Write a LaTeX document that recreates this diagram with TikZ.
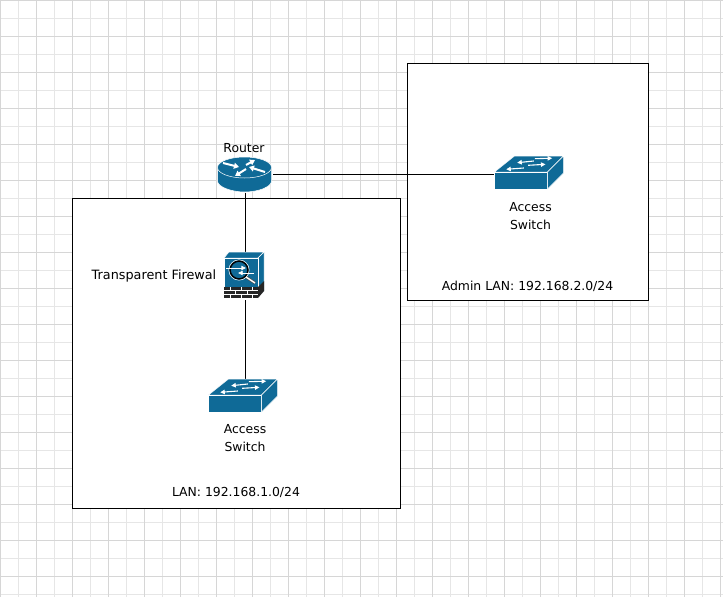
\documentclass[tikz,border=0pt]{standalone}
\usepackage{fontspec}
\setmainfont{DejaVu Sans}
\usetikzlibrary{arrows.meta}
\definecolor{ciscoblue}{HTML}{0F6A97}
\definecolor{gridminor}{HTML}{E6E6E6}
\definecolor{gridmajor}{HTML}{D6D6D6}
\tikzset{
  zonebox/.style={draw=black,fill=white,line width=0.9pt},
  label/.style={font=\fontsize{12.4}{18}\selectfont,text=black,inner sep=0pt,align=center},
  link/.style={draw=black,line width=0.9pt},
  face/.style={fill=ciscoblue,draw=white,line width=0.5pt,line join=round},
  wa/.style={draw=white,line width=1.1pt,-{Triangle[width=4.4pt,length=4.6pt]}},
  ra/.style={draw=white,line width=2pt,-{Triangle[width=6pt,length=5pt]}},
  switchicon/.pic={
    \path[face] (0,16) -- (20,0) -- (69,0) -- (53,16) -- cycle;
    \path[face] (0,16) -- (53,16) -- (53,33) -- (0,33) -- cycle;
    \path[face] (53,16) -- (69,0) -- (69,17) -- (53,33) -- cycle;
    \draw[wa] (40.3,2.7) -- (57.7,2.2);
    \draw[wa] (39.3,5) -- (22.7,6.7);
    \draw[wa] (33.7,9.3) -- (51,8.3);
    \draw[wa] (29.3,12) -- (11.7,13.3);
  }
}
\begin{document}
\begin{tikzpicture}[x=1pt,y=-1pt]
\useasboundingbox (0,0) rectangle (723,597);
\fill[white] (0,0) rectangle (723,597);
% grid
\foreach \i in {0,...,40} {
  \draw[gridminor,line width=0.9pt] ({18*\i+0.5},0) -- ({18*\i+0.5},597);
}
\foreach \i in {0,...,33} {
  \draw[gridminor,line width=0.9pt] (0,{18*\i+0.5}) -- (723,{18*\i+0.5});
}
\foreach \i in {0,...,20} {
  \draw[gridmajor,line width=0.9pt] ({36*\i+0.5},0) -- ({36*\i+0.5},597);
}
\foreach \i in {0,...,16} {
  \draw[gridmajor,line width=0.9pt] (0,{36*\i+0.5}) -- (723,{36*\i+0.5});
}
% zones
\node[zonebox,minimum width=328pt,minimum height=310pt,inner sep=0pt,anchor=north west] (lan) at (72,198) {};
\node[zonebox,minimum width=241pt,minimum height=237pt,inner sep=0pt,anchor=north west] (admin) at (407,63) {};
% icon anchors
\node[inner sep=0pt,minimum width=56pt,minimum height=36pt] (router) at (245,174.5) {};
\node[inner sep=0pt,minimum width=40pt,minimum height=48pt] (fw) at (245,276) {};
\node[inner sep=0pt,minimum width=70pt,minimum height=34pt] (lansw) at (244,396) {};
\node[inner sep=0pt,minimum width=70pt,minimum height=34pt] (adminsw) at (530,173.5) {};
% connectors
\draw[link] (router.south) -- (fw.north);
\draw[link] (fw.south -| lansw.north) ++(1.8,0) coordinate (fwb) -- (fwb |- lansw.north);
\draw[link] (router.east) -- (adminsw.west |- router.east);
% router icon
\begin{scope}
  \path[face] (217.5,167.5) -- (217.5,181) .. controls (217.5,187) and (232,192) .. (244.5,192) .. controls (258,192) and (271.5,187) .. (271.5,181) -- (271.5,167.5) -- cycle;
  \path[face] (244.5,167.5) ellipse[x radius=27,y radius=10.5];
  \draw[ra] (223,163) -- (239,167);
  \draw[ra] (246,165) -- (255,160);
  \draw[ra] (246,169) -- (235,176);
  \draw[ra] (265,172) -- (249,167);
\end{scope}
% firewall icon
\begin{scope}
  \path[face] (224,258) -- (229,252) -- (264,252) -- (258,258) -- cycle;
  \path[face] (258,258) -- (264,252) -- (264,291) -- (258,297) -- cycle;
  \path[face] (224,258) rectangle (258,288);
  \fill[black!85] (224,287) rectangle (258,298);
  \draw[white,line width=0.8pt] (224,290.5) -- (258,290.5) (224,294) -- (258,294);
  \draw[white,line width=0.7pt] (230,287) -- (230,290.5) (241,287) -- (241,290.5) (252,287) -- (252,290.5)
    (235,290.5) -- (235,294) (247,290.5) -- (247,294) (230,294) -- (230,298) (241,294) -- (241,298) (252,294) -- (252,298);
  \fill[black!85] (258,287) -- (264,281) -- (264,291) -- (258,298) -- cycle;
  \draw[black!70,line width=2.8pt] (246,277) -- (255,283);
  \draw[white,line width=1.4pt] (246,277) -- (255,283);
  \fill[ciscoblue] (239,270) circle[radius=8.5];
  \draw[black,line width=1.6pt] (239,270) circle[radius=9];
  \draw[white,line width=0.5pt] (239,270) circle[radius=10.2];
  \draw[wa,line width=0.7pt] (226,268) -- (246,268);
  \draw[wa,line width=0.7pt] (254,273) -- (238,273);
\end{scope}
% switches
\pic at (208.5,379) {switchicon};
\pic at (494.5,156) {switchicon};
% labels
\node[label] (t1) at (244,148) {Router};
\node[label,font=\fontsize{12.8}{18}\selectfont] (t2) at (154,275.5) {Transparent Firewal};
\node[label] (t3) at (245,438) {Access\\Switch};
\node[label] (t4) at (530.5,216) {Access\\Switch};
\node[label] (t5) at (236,492) {LAN: 192.168.1.0/24};
\node[label] (t6) at (527.5,286) {Admin LAN: 192.168.2.0/24};
\end{tikzpicture}
\end{document}
